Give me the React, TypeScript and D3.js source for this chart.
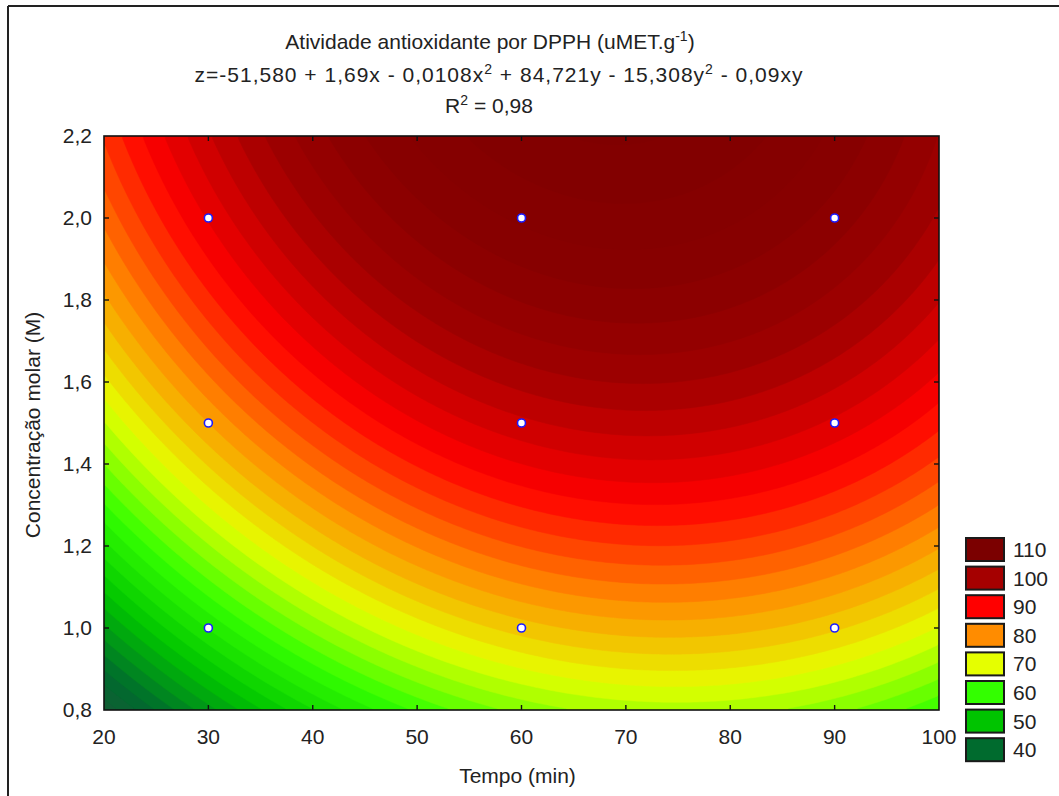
import React, { useMemo } from "react";
import * as d3 from "d3";

// fitted surface coefficients as printed in the title: b0, x, x², y, y², xy
const coefficients = [-51.58, 1.69, -0.0108, 84.721, -15.308, -0.09];
const xTicks = [20, 30, 40, 50, 60, 70, 80, 90, 100];
const yTicks = [0.8, 1.0, 1.2, 1.4, 1.6, 1.8, 2.0, 2.2];
const pointX = [30, 60, 90, 30, 60, 90, 30, 60, 90];
const pointY = [2.0, 2.0, 2.0, 1.5, 1.5, 1.5, 1.0, 1.0, 1.0];
const legendValues = [110, 100, 90, 80, 70, 60, 50, 40];
const legendColors = ["#7b0000", "#a50000", "#ff0000", "#ff8c00", "#e5ff00", "#33ff00", "#00c400", "#006b2e"];

const W = 1059;
const H = 796;
const margin = { top: 136, right: 120, bottom: 86, left: 104 };
const plotW = W - margin.left - margin.right;
const plotH = H - margin.top - margin.bottom;
const font = "'Liberation Sans', Arial, sans-serif";

const surface = (x: number, y: number) => {
  const [b0, b1, b2, b3, b4, b5] = coefficients;
  return b0 + b1 * x + b2 * x * x + b3 * y + b4 * y * y + b5 * x * y;
};

const App = () => {
  const x = d3.scaleLinear().domain([20, 100]).range([0, plotW]);
  const y = d3.scaleLinear().domain([0.8, 2.2]).range([plotH, 0]);

  // plot fill: legend colours, slightly darker toward the top of the range
  const color = d3
    .scaleLinear<string>()
    .domain([32, 40, 50, 60, 70, 80, 90, 100, 106, 118])
    .range(["#1a5638", "#006b2e", "#00c400", "#33ff00", "#e5ff00", "#ff8c00", "#ff0000", "#a00000", "#880000", "#7a0000"])
    .interpolate(d3.interpolateRgb)
    .clamp(true);

  const bands = useMemo(() => {
    const nx = 240;
    const ny = 165;
    const values = new Array(nx * ny);
    for (let j = 0; j < ny; j++) {
      for (let i = 0; i < nx; i++) {
        const xv = x.invert(((i + 0.5) / nx) * plotW);
        const yv = y.invert(((j + 0.5) / ny) * plotH);
        values[j * nx + i] = surface(xv, yv);
      }
    }
    const thresholds = d3.range(30, 118, 2);
    const contours = d3.contours().size([nx, ny]).thresholds(thresholds)(values);
    const proj = d3.geoTransform({
      point(px: number, py: number) {
        this.stream.point((px / nx) * plotW, (py / ny) * plotH);
      },
    });
    const path = d3.geoPath(proj);
    return contours.map((c) => ({ d: path(c as any) || "", fill: color(c.value + 1) }));
  }, []);

  const tick = 5;
  const fs = 21;

  return (
    <svg
      width={W}
      height={H}
      style={{ position: "absolute", left: 0, top: 0, background: "#fff", fontFamily: font }}
    >
      {/* outer frame */}
      <line x1={8} y1={6} x2={8} y2={H} stroke="#222" strokeWidth={2} />
      <line x1={8} y1={6} x2={W} y2={6} stroke="#222" strokeWidth={2} />

      {/* titles */}
      <g fill="#222" fontSize={fs} textAnchor="middle">
        <text x={490} y={49}>
          Atividade antioxidante por DPPH (uMET.g
          <tspan dy={-8} fontSize={14}>-1</tspan>
          <tspan dy={8}>)</tspan>
        </text>
        <text x={499} y={82} letterSpacing={1}>
          z=-51,580 + 1,69x - 0,0108x
          <tspan dy={-8} fontSize={14}>2</tspan>
          <tspan dy={8}> + 84,721y - 15,308y</tspan>
          <tspan dy={-8} fontSize={14}>2</tspan>
          <tspan dy={8}> - 0,09xy</tspan>
        </text>
        <text x={489} y={113}>
          R<tspan dy={-8} fontSize={14}>2</tspan>
          <tspan dy={8}> = 0,98</tspan>
        </text>
      </g>

      <g transform={`translate(${margin.left},${margin.top})`}>
        <defs>
          <clipPath id="plot-clip">
            <rect width={plotW} height={plotH} />
          </clipPath>
        </defs>
        <g clipPath="url(#plot-clip)">
          <rect width={plotW} height={plotH} fill={color(31)} />
          {bands.map((b, i) => (
            <path key={i} d={b.d} fill={b.fill} stroke={b.fill} strokeWidth={0.5} />
          ))}
        </g>

        {/* design points */}
        {pointX.map((px, i) => (
          <circle key={i} cx={x(px)} cy={y(pointY[i])} r={4} fill="#fff" stroke="#1a1aff" strokeWidth={1.6} />
        ))}

        <rect width={plotW} height={plotH} fill="none" stroke="#111" strokeWidth={1.6} />

        {/* inward ticks on all four sides */}
        {xTicks.slice(1, -1).map((t) => (
          <g key={"x" + t} stroke="#111" strokeWidth={1.4}>
            <line x1={x(t)} x2={x(t)} y1={plotH} y2={plotH - tick} />
            <line x1={x(t)} x2={x(t)} y1={0} y2={tick} />
          </g>
        ))}
        {yTicks.slice(1, -1).map((t) => (
          <g key={"y" + t} stroke="#111" strokeWidth={1.4}>
            <line x1={0} x2={tick} y1={y(t)} y2={y(t)} />
            <line x1={plotW} x2={plotW - tick} y1={y(t)} y2={y(t)} />
          </g>
        ))}

        {/* tick labels */}
        <g fill="#222" fontSize={fs}>
          {xTicks.map((t) => (
            <text key={"xl" + t} x={x(t)} y={plotH + 34} textAnchor="middle">
              {t}
            </text>
          ))}
          {yTicks.map((t) => (
            <text key={"yl" + t} x={-12} y={y(t) + 7} textAnchor="end">
              {d3.format(".1f")(t).replace(".", ",")}
            </text>
          ))}
        </g>

        <text x={x(60) - 4} y={plotH + 73} textAnchor="middle" fontSize={fs} fill="#222">
          Tempo (min)
        </text>
        <text
          transform={`translate(${33 + 7 - margin.left},${425 - margin.top}) rotate(-90)`}
          textAnchor="middle"
          fontSize={fs}
          fill="#222"
        >
          Concentração molar (M)
        </text>
      </g>

      {/* legend */}
      <g>
        {legendValues.map((v, i) => (
          <g key={v} transform={`translate(966,${538 + i * 28.6})`}>
            <rect width={38} height={23} fill={legendColors[i]} stroke="#1a1a1a" strokeWidth={2} />
            <text x={47} y={19} fontSize={fs} fill="#222">
              {v}
            </text>
          </g>
        ))}
      </g>
    </svg>
  );
};

export default App;
